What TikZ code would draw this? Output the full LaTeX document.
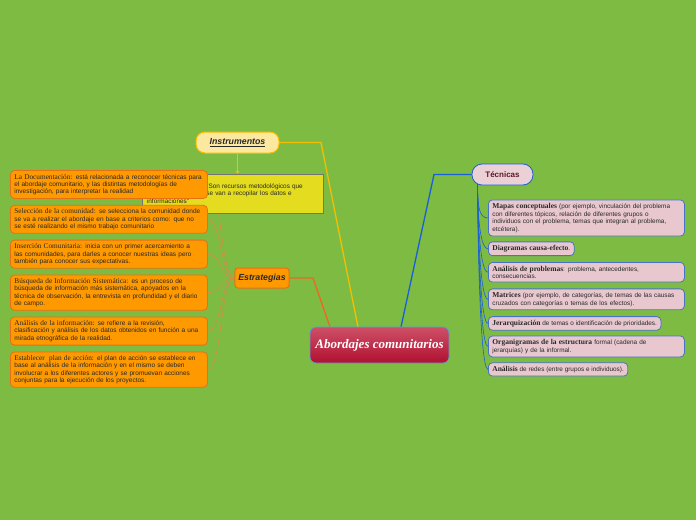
\documentclass[tikz,border=0pt]{standalone}
\usepackage{fontspec}
\setmainfont{Liberation Serif}
\setsansfont{Liberation Sans}
\usetikzlibrary{positioning,calc,arrows.meta}

\definecolor{verde}{RGB}{126,187,66}
\definecolor{naranja}{RGB}{255,153,0}
\definecolor{naranjaborde}{RGB}{232,112,20}
\definecolor{rosa}{RGB}{232,200,206}
\definecolor{azulborde}{RGB}{70,115,200}
\definecolor{azul}{RGB}{26,95,216}
\definecolor{amarillo}{RGB}{228,220,30}
\definecolor{oro}{RGB}{245,190,0}
\definecolor{crema}{RGB}{253,232,160}
\definecolor{rojoarriba}{RGB}{206,80,104}
\definecolor{rojoabajo}{RGB}{176,16,48}
\definecolor{celeste}{RGB}{90,160,210}
\definecolor{rojizo}{RGB}{242,101,34}
\definecolor{cafe}{RGB}{214,140,70}
\definecolor{texto}{RGB}{40,40,40}
\definecolor{granate}{RGB}{90,26,42}

\newcommand{\tit}[1]{{\rmfamily\fontsize{7.3}{7.2}\selectfont #1}}
\newcommand{\titb}[1]{{\rmfamily\bfseries\fontsize{7.5}{7.6}\selectfont #1}}

\pgfdeclarelayer{fondo}
\pgfdeclarelayer{lineas}
\pgfsetlayers{fondo,lineas,main}

\begin{document}
\begin{tikzpicture}[
    x=1pt, y=-1pt,
    paso/.style={draw=naranjaborde, fill=naranja, rounded corners=4pt, line width=0.8pt,
        text width=189pt, inner xsep=4pt, inner ysep=3.6pt, align=left, text=texto,
        font=\sffamily\fontsize{6.5}{7.2}\selectfont},
    tecnica/.style={draw=azulborde, fill=rosa, rounded corners=4pt, line width=0.8pt,
        inner xsep=4pt, inner ysep=3.4pt, align=left, text=texto,
        font=\sffamily\fontsize{6.4}{7.6}\selectfont},
    ancha/.style={tecnica, text width=188pt},
    rama/.style={font=\sffamily\bfseries\itshape\fontsize{8.8}{10}\selectfont, text=texto},
    centro/.style={draw=celeste, line width=0.8pt, top color=rojoarriba, bottom color=rojoabajo,
        rounded corners=6pt, minimum width=139pt, minimum height=36pt, text=white,
        font=\rmfamily\bfseries\itshape\fontsize{13}{15}\selectfont},
    enlace/.style={line width=0.6pt}
]

\begin{pgfonlayer}{fondo}
\fill[verde] (0,0) rectangle (696,520);
\end{pgfonlayer}

% nodo central
\node[centro] (central) at (379.5,345) {Abordajes comunitarios};

% ramas principales
\node[rama, draw=oro, fill=crema, line width=1pt, rounded corners=9pt,
      minimum width=83pt, minimum height=21pt] (instr) at (237.5,142.5) {\underline{Instrumentos}};
\node[rama, draw=naranjaborde, fill=naranja, line width=1pt, rounded corners=3pt,
      minimum width=54pt, minimum height=20pt] (est) at (262,278) {Estrategias};
\node[rama, draw=azul, fill=rosa!85!white, line width=0.8pt, rounded corners=10pt,
      minimum width=61pt, minimum height=21pt, text=granate, font=\sffamily\bfseries\fontsize{8}{10}\selectfont] (tec) at (502.5,174.5) {Técnicas};

% definicion de instrumentos
\node[draw=black!55, fill=amarillo, minimum width=181pt, minimum height=39pt, text width=171pt,
      inner xsep=5pt, align=left, text=texto, font=\sffamily\fontsize{6.4}{7.6}\selectfont]
      (def) at (232.5,193.5)
      {\textbf{Los Instrumentos:} "Son recursos metodológicos que\\
       mediante los cuales se van a recopilar los datos e\\
       informaciones"};

% estrategias
\node[paso] (p1) at (10,184.5) [anchor=west]
  {\tit{La Documentación:} está relacionada a reconocer técnicas para\\
   el abordaje comunitario, y las distintas metodologías de\\
   investigación, para interpretar la realidad};
\node[paso, below=6pt of p1.south west, anchor=north west] (p2)
  {\tit{Selección de la comunidad:} se selecciona la comunidad donde\\
   se va a realizar el abordaje en base a criterios como: que no\\
   se esté realizando el mismo trabajo comunitario};
\node[paso, below=6pt of p2.south west, anchor=north west] (p3)
  {\tit{Inserción Comunitaria:} inicia con un primer acercamiento a\\
   las comunidades, para darles a conocer nuestras ideas pero\\
   también para conocer sus expectativas.};
\node[paso, below=6pt of p3.south west, anchor=north west] (p4)
  {\tit{Búsqueda de Información Sistemática:} es un proceso de\\
   búsqueda de información más sistemática, apoyados en la\\
   técnica de observación, la entrevista en profundidad y el diario\\
   de campo.};
\node[paso, below=6pt of p4.south west, anchor=north west] (p5)
  {\tit{Análisis de la información:} se refiere a la revisión,\\
   clasificación y análisis de los datos obtenidos en función a una\\
   mirada etnográfica de la realidad.};
\node[paso, below=6pt of p5.south west, anchor=north west] (p6)
  {\tit{Establecer\ \ plan de acción:} el plan de acción se establece en\\
   base al análisis de la información y en el mismo se deben\\
   involucrar a los diferentes actores y se promuevan acciones\\
   conjuntas para la ejecución de los proyectos.};

% tecnicas
\node[ancha] (t1) at (488,218) [anchor=west]
  {\titb{Mapas conceptuales} (por ejemplo, vinculación del problema\\
   con diferentes tópicos, relación de diferentes grupos o\\
   individuos con el problema, temas que integran al problema,\\
   etcétera).};
\node[tecnica, below=5pt of t1.south west, anchor=north west] (t2)
  {\titb{Diagramas causa-efecto}.};
\node[ancha, below=6pt of t2.south west, anchor=north west] (t3)
  {\titb{Análisis de problemas}: problema, antecedentes,\\
   consecuencias.};
\node[ancha, below=6pt of t3.south west, anchor=north west] (t4)
  {\titb{Matrices} (por ejemplo, de categorías, de temas de las causas\\
   cruzados con categorías o temas de los efectos).};
\node[tecnica, below=6pt of t4.south west, anchor=north west] (t5)
  {\titb{Jerarquización} de temas o identificación de prioridades.};
\node[ancha, below=5pt of t5.south west, anchor=north west] (t6)
  {\titb{Organigramas de la estructura} formal (cadena de\\
   jerarquías) y de la informal.};
\node[tecnica, below=5pt of t6.south west, anchor=north west] (t7)
  {\titb{Análisis} de redes (entre grupos e individuos).};

% conectores
\coordinate (codo-i) at (321,142.5);
\coordinate (llega-i) at (358,327);
\coordinate (codo-e) at (313,278);
\coordinate (llega-e) at (330,327);
\coordinate (codo-t) at (434,174.5);
\coordinate (llega-t) at (401,327);
\coordinate (base-t) at ($(tec.south west)+(6,-1)$);

\begin{pgfonlayer}{lineas}
\draw[oro, line width=1.3pt] (instr.east) -- (codo-i) -- (llega-i);
\draw[rojizo, line width=1.3pt] (est.east) -- (codo-e) -- (llega-e);
\draw[azul, line width=1.3pt] (tec.west) -- (codo-t) -- (llega-t);
\draw[oro, line width=1pt, -{Triangle[width=4pt,length=3pt]}] (instr.south) -- (instr.south |- def.north);
\foreach \n in {1,...,6}
  \draw[enlace, cafe] (est.west) .. controls +(-14,0) and +(14,0) .. (p\n.east);
\foreach \n in {1,...,7}
  \draw[enlace, azul] (base-t) .. controls +(0,22) and +(-9,0) .. (t\n.west);
\end{pgfonlayer}

\end{tikzpicture}
\end{document}
